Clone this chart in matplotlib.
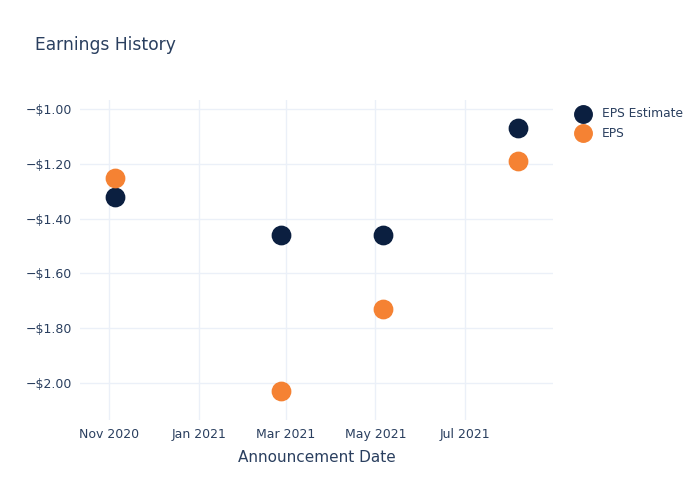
import pandas as pd
import matplotlib.pyplot as plt
import matplotlib.dates as mdates

dates = pd.to_datetime(['2020-11-05', '2021-02-26', '2021-05-06', '2021-08-06'])
eps_estimate = [-1.32, -1.46, -1.46, -1.07]
eps_actual = [-1.25, -2.03, -1.73, -1.19]

text_color = '#2a3f5f'
grid_color = '#ebf0f8'

fig = plt.figure(figsize=(7, 5), dpi=100)
ax = fig.add_axes([0.1143, 0.16, 0.6757, 0.64])

ax.scatter(dates, eps_estimate, s=175, color='#0b1f40', label='EPS Estimate', zorder=3)
ax.scatter(dates, eps_actual, s=175, color='#f58233', label='EPS', zorder=3)

ax.set_xlim(pd.Timestamp('2020-10-12'), pd.Timestamp('2021-08-30'))
ax.set_ylim(-2.135, -0.967)

ax.xaxis.set_major_locator(mdates.MonthLocator(bymonth=[1, 3, 5, 7, 11]))
ax.xaxis.set_major_formatter(mdates.DateFormatter('%b %Y'))
ax.set_yticks([-1.0, -1.2, -1.4, -1.6, -1.8, -2.0])
ax.set_yticklabels(['\u2212$%.2f' % abs(v) for v in [-1.0, -1.2, -1.4, -1.6, -1.8, -2.0]])

ax.grid(True, color=grid_color, linewidth=1)
ax.set_axisbelow(True)
for s in ax.spines.values():
    s.set_visible(False)
ax.tick_params(axis='both', length=0, labelsize=9, labelcolor=text_color, pad=6)

ax.set_xlabel('Announcement Date', fontsize=11, color=text_color, labelpad=6)
fig.text(0.05, 0.9, 'Earnings History', fontsize=12.3, color=text_color)

leg = ax.legend(loc='upper left', bbox_to_anchor=(1.015, 1.012), frameon=False,
                fontsize=8.8, labelcolor=text_color, handletextpad=0.5,
                labelspacing=0.52, markerscale=0.95)

fig.savefig('out.png', dpi=100)
